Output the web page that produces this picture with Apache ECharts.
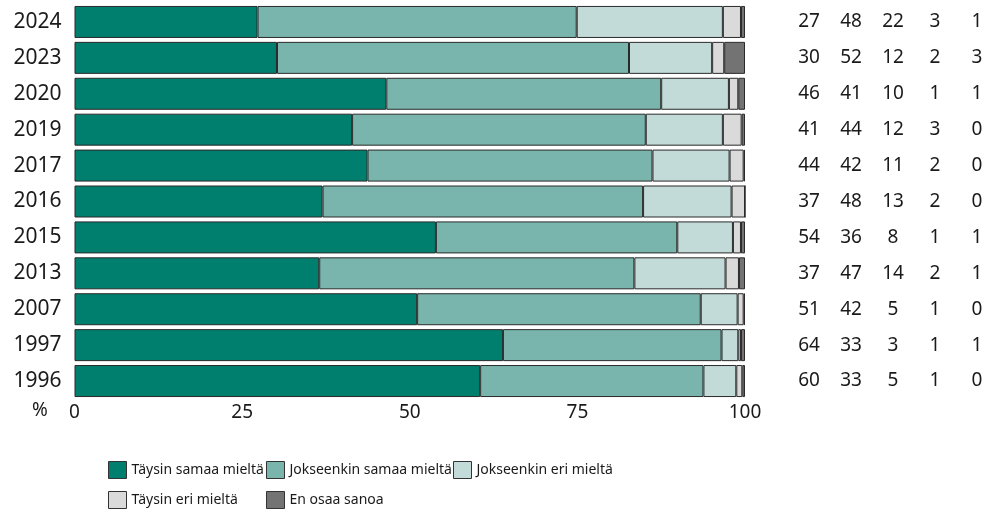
<!DOCTYPE html>
<html>
<head>
<meta charset="utf-8">
<script src="https://cdn.jsdelivr.net/npm/echarts@6/dist/echarts.min.js"></script>
<style>
html,body{margin:0;padding:0;background:#fff;}
#chart{width:988px;height:519px;}
</style>
</head>
<body>
<div id="chart"></div>
<script>
const categories = ['2024','2023','2020','2019','2017','2016','2015','2013','2007','1997','1996'];
const seriesNames = ['Täysin samaa mieltä','Jokseenkin samaa mieltä','Jokseenkin eri mieltä','Täysin eri mieltä','En osaa sanoa'];
const seriesColors = ['#007f6e','#79b5ad','#c2dbd8','#dadada','#737373'];
// bar shares (%)
const taysinSamaa     = [27.3, 30.2, 46.5, 41.4, 43.7, 37.0, 53.9, 36.5, 51.1, 63.9, 60.5];
const jokseenkinSamaa = [47.6, 52.5, 41.0, 43.8, 42.5, 47.8, 36.0, 47.0, 42.3, 32.6, 33.3];
const jokseenkinEri   = [21.8, 12.4, 10.1, 11.5, 11.5, 13.2,  8.3, 13.6,  5.5,  2.5,  4.9];
const taysinEri       = [ 2.7,  1.8,  1.4,  2.8,  2.1,  2.0,  1.2,  2.0,  0.9,  0.4,  0.9];
const enOsaa          = [ 0.6,  3.1,  1.0,  0.5,  0.2,  0.0,  0.6,  0.9,  0.2,  0.6,  0.4];
// rounded value labels shown on the right
const lblTaysinSamaa     = [27, 30, 46, 41, 44, 37, 54, 37, 51, 64, 60];
const lblJokseenkinSamaa = [48, 52, 41, 44, 42, 48, 36, 47, 42, 33, 33];
const lblJokseenkinEri   = [22, 12, 10, 12, 11, 13,  8, 14,  5,  3,  5];
const lblTaysinEri       = [ 3,  2,  1,  3,  2,  2,  1,  2,  1,  1,  1];
const lblEnOsaa          = [ 1,  3,  1,  0,  0,  0,  1,  1,  0,  1,  0];
const xTicks = [0, 25, 50, 75, 100];

const values = [taysinSamaa, jokseenkinSamaa, jokseenkinEri, taysinEri, enOsaa];
const labels = [lblTaysinSamaa, lblJokseenkinSamaa, lblJokseenkinEri, lblTaysinEri, lblEnOsaa];

const FONT = "'Noto Sans', 'Open Sans', sans-serif";
const TXT = '#1a1a1a';

const chart = echarts.init(document.getElementById('chart'));
const rich = {};
['a','b','c','d','e'].forEach(k => { rich[k] = {width: 42, align: 'center', fontSize: 19, fontFamily: FONT, color: TXT}; });

// legend slots (two rows, aligned columns)
const legendPos = [[108, 461], [266, 461], [453, 461], [108, 491], [266, 491]];
const legends = seriesNames.map((n, k) => ({
  data: [n], left: legendPos[k][0], top: legendPos[k][1], padding: 0,
  itemWidth: 18, itemHeight: 17, icon: 'rect', selectedMode: false,
  textStyle: {fontSize: 14, fontFamily: FONT, color: TXT},
  itemStyle: {borderColor: '#333', borderWidth: 1}
}));

chart.setOption({
  animation: false,
  backgroundColor: '#fff',
  grid: {left: 74.5, right: 243, top: 4, bottom: 120, containLabel: false},
  xAxis: {
    type: 'value', min: xTicks[0], max: xTicks[xTicks.length-1], interval: 25,
    axisLine: {show: false}, axisTick: {show: false}, splitLine: {show: false},
    axisLabel: {fontSize: 19, fontFamily: FONT, color: TXT, margin: 4}
  },
  yAxis: [{
    type: 'category', data: categories, inverse: true,
    axisLine: {show: false}, axisTick: {show: false},
    axisLabel: {fontSize: 21, fontFamily: FONT, color: TXT, margin: 13}
  }, {
    type: 'category', data: categories, inverse: true, position: 'right',
    axisLine: {show: false}, axisTick: {show: false},
    axisLabel: {
      margin: 43, align: 'left',
      formatter: (v, i) => '{a|' + labels[0][i] + '}{b|' + labels[1][i] + '}{c|' + labels[2][i] + '}{d|' + labels[3][i] + '}{e|' + labels[4][i] + '}',
      rich: rich
    }
  }],
  legend: legends,
  graphic: [{
    type: 'text', x: 40, y: 411,
    style: {text: '%', fontSize: 19, fontFamily: FONT, fill: TXT, align: 'center', verticalAlign: 'middle'}
  }],
  series: seriesNames.map((n, k) => ({
    name: n, type: 'bar', stack: 'total', barWidth: 32,
    data: values[k],
    itemStyle: {color: seriesColors[k], borderColor: '#2a2a2a', borderWidth: 1},
    emphasis: {disabled: true}
  }))
});
</script>
</body>
</html>
